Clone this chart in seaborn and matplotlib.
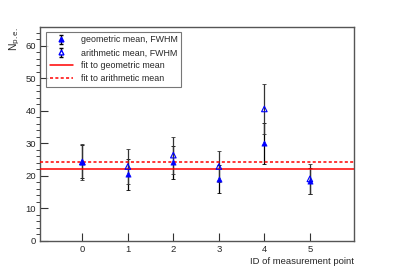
import numpy as np
import pandas as pd
import matplotlib
matplotlib.use("Agg")
import matplotlib.pyplot as plt
import seaborn as sns
from matplotlib.ticker import MultipleLocator

point_id = [0, 1, 2, 3, 4, 5]
geo_mean = [24.4, 20.5, 24.2, 19.0, 30.1, 18.5]
geo_err = [5.0, 4.8, 5.1, 4.3, 6.3, 4.0]
ari_mean = [24.3, 22.9, 26.4, 22.9, 40.6, 19.1]
ari_err = [5.5, 5.3, 5.7, 4.8, 7.6, 4.5]
fit_geo = 22.05
fit_ari = 24.3

df = pd.DataFrame({"id": point_id, "geo": geo_mean, "ari": ari_mean})

sns.set_style("ticks")
plt.rcParams["font.family"] = ["Liberation Sans", "DejaVu Sans"]

fig = plt.figure(figsize=(3.94, 2.68), dpi=100)
ax = fig.add_axes([40 / 394, 1 - 241 / 268, 314 / 394, 214 / 268])

ax.errorbar(point_id, geo_mean, yerr=geo_err, fmt="none", ecolor="black",
            elinewidth=0.9, capsize=1.5, capthick=0.6, zorder=2)
ax.errorbar(point_id, ari_mean, yerr=ari_err, fmt="none", ecolor="#333333",
            elinewidth=0.9, capsize=1.5, capthick=0.6, zorder=2)
sns.scatterplot(data=df, x="id", y="geo", marker="^", color="blue", s=14,
                edgecolor="blue", linewidth=0.5, ax=ax, zorder=4)
sns.scatterplot(data=df, x="id", y="ari", marker="^", facecolor="none", s=16,
                edgecolor="blue", linewidth=0.8, ax=ax, zorder=4)

l1 = ax.axhline(fit_geo, color="red", lw=1.1, zorder=3)
l2 = ax.axhline(fit_ari, color="red", lw=1.1, ls=(0, (2, 1.5)), zorder=3)

# dummy handles for the legend (marker + error bar)
pg = ax.errorbar([np.nan], [np.nan], yerr=[1], fmt="^", color="blue", ms=3.5,
                 ecolor="black", elinewidth=0.9, capsize=1.5)
pa = ax.errorbar([np.nan], [np.nan], yerr=[1], fmt="^", color="blue",
                 mfc="white", ms=3.5, ecolor="black", elinewidth=0.9,
                 capsize=1.5)
leg = ax.legend([pg, pa, l1, l2],
                ["geometric mean, FWHM", "arithmetic mean, FWHM",
                 "fit to geometric mean", "fit to arithmetic mean"],
                loc="upper left", bbox_to_anchor=(0.02, 0.977), fontsize=6.4,
                frameon=True, fancybox=False, edgecolor="#555555",
                borderpad=0.4, handlelength=2.6, handletextpad=0.9,
                labelspacing=0.45, borderaxespad=0)
leg.get_frame().set_linewidth(0.8)

ax.set_xlim(-0.93, 5.97)
ax.set_ylim(0, 65.8)
ax.set_xticks(point_id)
ax.yaxis.set_major_locator(MultipleLocator(10))
ax.yaxis.set_minor_locator(MultipleLocator(2))
ax.tick_params(axis="both", direction="in", labelsize=6.8, color="#333333",
               pad=3)
ax.tick_params(axis="y", which="major", length=6, width=0.8)
ax.tick_params(axis="y", which="minor", length=3, width=0.6)
ax.tick_params(axis="x", which="major", length=6, width=0.8)
for s in ax.spines.values():
    s.set_color("#555555")
    s.set_linewidth(1.0)

ax.set_xlabel("ID of measurement point", fontsize=6.8, loc="right", labelpad=2)
ax.set_ylabel(r"N$_{\rm p.e.}$", fontsize=7.5, loc="top", labelpad=2)

fig.savefig("out.png", dpi=100)
